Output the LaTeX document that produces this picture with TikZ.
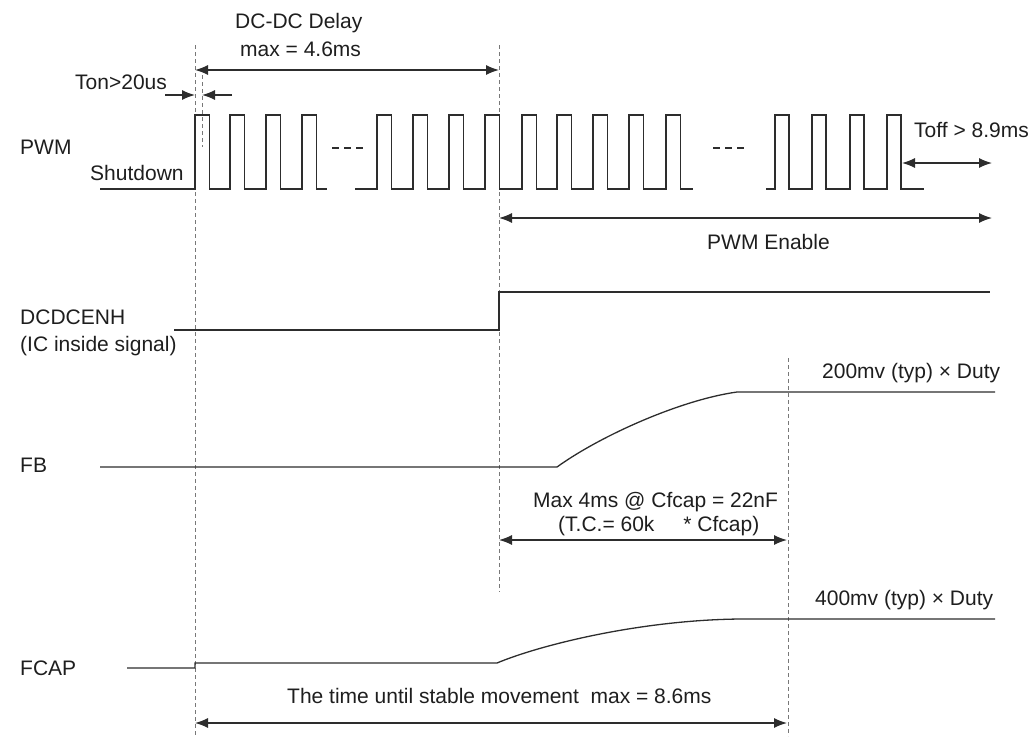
\documentclass[tikz,border=0pt]{standalone}
\usepackage{fontspec}
\setmainfont{Liberation Sans}
\usepackage{tikz}
\usetikzlibrary{arrows.meta,positioning,calc}
\definecolor{sigline}{RGB}{45,45,45}
\definecolor{guidegray}{RGB}{120,120,120}
\definecolor{labeltext}{RGB}{30,30,30}
\tikzset{
    sig/.style={draw=sigline, line width=1.3pt},
    guide/.style={draw=guidegray, line width=0.9pt, dash pattern=on 4pt off 3pt},
    gap/.style={draw=sigline, line width=1.1pt, dash pattern=on 7pt off 5pt},
    dimarr/.style={draw=sigline, line width=1.3pt, {Latex[length=13pt,width=10pt]}-{Latex[length=13pt,width=10pt]}},
    onearr/.style={draw=sigline, line width=1.3pt, -{Latex[length=13pt,width=10pt]}},
    lbl/.style={inner sep=0pt, anchor=base west, text=labeltext, font=\fontsize{21}{25}\selectfont}
}

\begin{document}
\begin{tikzpicture}[x=1pt, y=-1pt]
            \useasboundingbox (0,0) rectangle (1032,736);
            % guide lines
            \coordinate (g1t) at (195,45);  \coordinate (g1b) at (195,736);
            \coordinate (g2t) at (202,68);  \coordinate (g2b) at (202,147);
            \coordinate (g3t) at (499,45);  \coordinate (g3b) at (499,592);
            \coordinate (g4t) at (788,358); \coordinate (g4b) at (788,736);
            \draw[guide] (g1t) -- (g1b);
            \draw[guide] (g2t) -- (g2b);
            \draw[guide] (g3t) -- (g3b);
            \draw[guide] (g4t) -- (g4b);

            % signal names
            \node[lbl] (pwmname) at (20,154) {PWM};
            \node[lbl] (shutdown) at (90,180) {Shutdown};
            \node[lbl] (enhname) at (20,324) {DCDCENH};
            \node[lbl] (enhnote) at (20,351) {(IC inside signal)};
            \node[lbl] (fbname) at (20,472) {FB};
            \node[lbl] (fcapname) at (20,675) {FCAP};

            % PWM
            \draw[sig] (100,189) foreach \r in {195,230,266,302} { -- (\r,189) -- (\r,115) -- ++(14.5,0) -- ++(0,74) } -- (327,189);
            \draw[sig] (355,189) foreach \r in {377,413,449,485,522,557,593,629,666} { -- (\r,189) -- (\r,115) -- ++(14.5,0) -- ++(0,74) } -- (693,189);
            \draw[sig] (766,189) foreach \r in {775,812,850,887} { -- (\r,189) -- (\r,115) -- ++(14,0) -- ++(0,74) } -- (924,189);
            \draw[gap] (332,148) -- (364,148);
            \draw[gap] (713,148) -- (745,148);

            % DCDCENH
            \draw[sig] (174,330) -- (499,330) -- (499,292) -- (990,292);

            % FB
            \draw[sig] (100,467) -- (557,467) .. controls (600,436) and (680,400) .. (737,392) -- (995,392);

            % FCAP
            \draw[sig] (127,668) -- (195,668) -- (195,663) -- (497,663) .. controls (540,645) and (640,620) .. (740,619) -- (995,619);

            % timing marks
            \coordinate (ddL) at (195,70);   \coordinate (ddR) at (499,70);
            \coordinate (tonA) at (165,95);  \coordinate (tonB) at (195,95);
            \coordinate (tonC) at (232,95);  \coordinate (tonD) at (202,95);
            \coordinate (toffL) at (902,163); \coordinate (toffR) at (992,163);
            \coordinate (enL) at (499,218);  \coordinate (enR) at (992,218);
            \coordinate (tcL) at (499,540);  \coordinate (tcR) at (787,540);
            \coordinate (stL) at (195,723);  \coordinate (stR) at (787,723);
            \draw[dimarr] (ddL) -- (ddR);
            \draw[onearr] (tonA) -- (tonB);
            \draw[onearr] (tonC) -- (tonD);
            \draw[dimarr] (toffL) -- (toffR);
            \draw[dimarr] (enL) -- (enR);
            \draw[dimarr] (tcL) -- (tcR);
            \draw[dimarr] (stL) -- (stR);

            % annotations
            \node[lbl] (ddtitle) at (235,28) {DC-DC Delay};
            \node[lbl] (ddmax) at (240,56) {max = 4.6ms};
            \node[lbl] (ton) at (75,89) {Ton>20us};
            \node[lbl] (toff) at (914,137) {Toff > 8.9ms};
            \node[lbl] (pwmen) at (707,249) {PWM Enable};
            \node[lbl] (fbtyp) at (822,378) {200mv (typ) × Duty};
            \node[lbl] (tcmax) at (533,507) {Max 4ms @ Cfcap = 22nF};
            \node[lbl] (tcform) at (558,531) {(T.C.= 60k\hspace{1.1em} * Cfcap)};
            \node[lbl] (fcaptyp) at (815,605) {400mv (typ) × Duty};
            \node[lbl] (stable) at (287,703) {The time until stable movement\ \ max = 8.6ms};
        \end{tikzpicture}
\end{document}
